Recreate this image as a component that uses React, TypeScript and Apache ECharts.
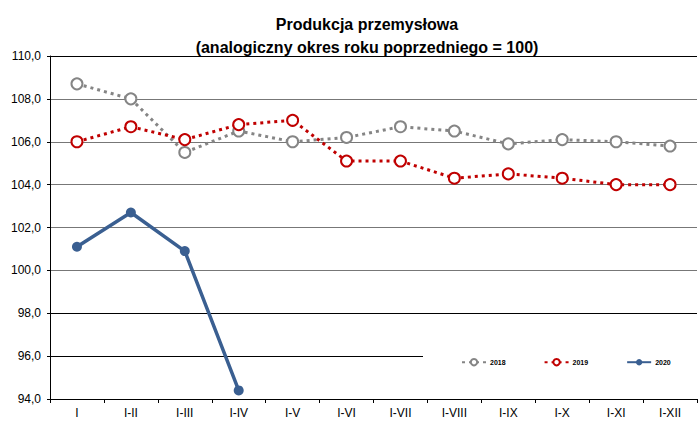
import React, { useEffect, useRef } from "react";
import * as echarts from "echarts";

const categories = ["I", "I-II", "I-III", "I-IV", "I-V", "I-VI", "I-VII", "I-VIII", "I-IX", "I-X", "I-XI", "I-XII"];
const values2018 = [108.7, 108.0, 105.5, 106.5, 106.0, 106.2, 106.7, 106.5, 105.9, 106.1, 106.0, 105.8];
const values2019 = [106.0, 106.7, 106.1, 106.8, 107.0, 105.1, 105.1, 104.3, 104.5, 104.3, 104.0, 104.0];
const values2020 = [101.1, 102.7, 100.9, 94.4];
const seriesNames = ["2018", "2019", "2020"];
const titleLines = ["Produkcja przemysłowa", "(analogiczny okres roku poprzedniego = 100)"];

const FONT = "'Liberation Sans Narrow', 'Liberation Sans', Arial, sans-serif";

export default function App() {
  const ref = useRef<HTMLDivElement>(null);
  useEffect(() => {
    if (!ref.current) return;
    const chart = echarts.init(ref.current, undefined, { renderer: "svg" });
    chart.setOption({
      animation: false,
      backgroundColor: "#fff",
      title: {
        text: titleLines.join("\n"),
        left: 362,
        textAlign: "center",
        top: 8,
        textStyle: { fontFamily: FONT, fontWeight: "bold", fontSize: 16, lineHeight: 23, color: "#000" },
      },
      legend: {
        left: 423,
        top: 350,
        width: 274,
        padding: [8, 40, 12, 38],
        backgroundColor: "#fff",
        itemWidth: 24,
        itemHeight: 8,
        itemGap: 38,
        textStyle: { fontFamily: FONT, fontSize: 7, fontWeight: "bold", color: "#000", padding: [0, 0, 0, -1] },
        data: seriesNames,
      },
      grid: { left: 50, right: 1, top: 56, bottom: 22 },
      xAxis: {
        type: "category",
        data: categories,
        boundaryGap: true,
        axisLine: { lineStyle: { color: "#000", width: 1 } },
        axisTick: { show: true, length: 4, lineStyle: { color: "#000" } },
        axisLabel: { fontFamily: FONT, fontSize: 12, color: "#000", margin: 8 },
      },
      yAxis: {
        type: "value",
        min: 94,
        max: 110,
        interval: 2,
        axisLine: { show: true, lineStyle: { color: "#000", width: 1 } },
        axisTick: { show: true, length: 3, lineStyle: { color: "#000" } },
        axisLabel: {
          fontFamily: FONT,
          fontSize: 12,
          color: "#000",
          margin: 9,
          formatter: (v: number) => v.toFixed(1).replace(".", ","),
        },
        splitLine: {
          show: true,
          lineStyle: {
            color: ["#000", "#000", "#000", "#777", "#777", "#777", "#777", "#777", "#000"],
            width: 1,
          },
        },
      },
      series: [
        {
          name: seriesNames[0],
          type: "line",
          data: values2018,
          symbol: "emptyCircle",
          symbolSize: 11,
          lineStyle: { color: "#858585", width: 3, type: [3, 4] },
          itemStyle: { color: "#858585", borderColor: "#858585", borderWidth: 1.5 },
          z: 2,
        },
        {
          name: seriesNames[1],
          type: "line",
          data: values2019,
          symbol: "emptyCircle",
          symbolSize: 11,
          lineStyle: { color: "#C00000", width: 3, type: [3, 4] },
          itemStyle: { color: "#C00000", borderColor: "#C00000", borderWidth: 1.5 },
          z: 3,
        },
        {
          name: seriesNames[2],
          type: "line",
          data: values2020,
          symbol: "circle",
          symbolSize: 10,
          lineStyle: { color: "#3A5F91", width: 3.5 },
          itemStyle: { color: "#3A5F91" },
          z: 4,
        },
      ],
    });
    return () => chart.dispose();
  }, []);
  return <div ref={ref} style={{ width: 698, height: 421, position: "absolute", left: 0, top: 0 }} />;
}
